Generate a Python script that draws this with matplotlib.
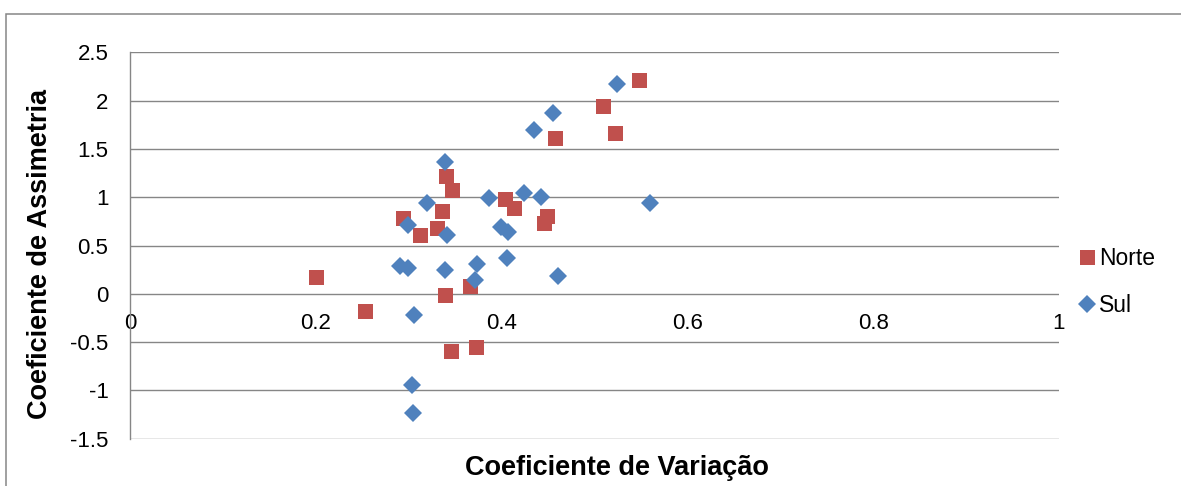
import matplotlib
matplotlib.use("Agg")
import matplotlib.pyplot as plt
from matplotlib.patches import Rectangle

plt.rcParams['font.family'] = ['Liberation Sans', 'DejaVu Sans']

# Coefficient of variation (x) and skewness (y) per region
norte_cv = [0.548, 0.509, 0.522, 0.457, 0.340, 0.347, 0.404, 0.413, 0.336, 0.294,
            0.449, 0.446, 0.331, 0.312, 0.339, 0.366, 0.200, 0.253, 0.346, 0.372]
norte_as = [2.21, 1.95, 1.67, 1.61, 1.22, 1.08, 0.98, 0.89, 0.86, 0.79,
            0.81, 0.73, 0.68, 0.61, -0.01, 0.08, 0.17, -0.18, -0.59, -0.55]

sul_cv = [0.524, 0.455, 0.435, 0.339, 0.320, 0.386, 0.424, 0.442, 0.560, 0.299,
          0.341, 0.399, 0.407, 0.406, 0.291, 0.299, 0.339, 0.373, 0.371, 0.461,
          0.306, 0.304, 0.305]
sul_as = [2.17, 1.87, 1.70, 1.37, 0.94, 0.99, 1.04, 1.00, 0.94, 0.71,
          0.61, 0.69, 0.64, 0.37, 0.29, 0.27, 0.25, 0.31, 0.14, 0.19,
          -0.22, -0.94, -1.23]

x_ticks = [0, 0.2, 0.4, 0.6, 0.8, 1]
x_tick_labels = ['0', '0.2', '0.4', '0.6', '0.8', '1']
y_ticks = [-1.5, -1, -0.5, 0, 0.5, 1, 1.5, 2, 2.5]
y_tick_labels = ['-1.5', '-1', '-0.5', '0', '0.5', '1', '1.5', '2', '2.5']

RED = '#C0504D'
BLUE = '#4F81BD'
GRID = '#868686'

W, H = 1181, 486
fig = plt.figure(figsize=(W / 100, H / 100), dpi=100)
fig.patch.set_facecolor('white')

# outer chart frame (runs off the right and bottom edges)
fig.add_artist(Rectangle((6 / W, -0.5), 1.5, 0.5 + (1 - 14 / H),
                         transform=fig.transFigure, fill=False,
                         edgecolor=GRID, linewidth=1.1))

left, right = 130 / W, 1059 / W
bottom, top = 1 - 438.7 / H, 1 - 52.5 / H
ax = fig.add_axes([left, bottom, right - left, top - bottom])

ax.plot(norte_cv, norte_as, linestyle='none', marker='s', markersize=10.8,
        color=RED, markeredgewidth=0, label='Norte', zorder=3)
ax.plot(sul_cv, sul_as, linestyle='none', marker='D', markersize=9.0,
        color=BLUE, markeredgewidth=0, label='Sul', zorder=4)

ax.set_xlim(0, 1)
ax.set_ylim(-1.5, 2.5)
ax.set_xticks(x_ticks)
ax.set_xticklabels(x_tick_labels)
ax.set_yticks(y_ticks)
ax.set_yticklabels(y_tick_labels)

ax.yaxis.grid(True, color=GRID, linewidth=1.0)
ax.xaxis.grid(False)
ax.set_axisbelow(True)

for side in ('top', 'right'):
    ax.spines[side].set_visible(False)
ax.spines['bottom'].set_position(('data', 0))
ax.spines['bottom'].set_visible(False)
ax.spines['left'].set_color(GRID)
ax.spines['left'].set_linewidth(1.0)

ax.tick_params(axis='x', length=0, pad=13.5, labelsize=16)
ax.tick_params(axis='y', length=0, pad=15.5, labelsize=16)

fig.text(616.6 / W, 1 - 468 / H, 'Coeficiente de Variação', ha='center',
         va='center', fontsize=19.5, fontweight='bold')
fig.text(40 / W, 1 - 254 / H, 'Coeficiente de Assimetria', ha='center',
         va='center', rotation=90, fontsize=19.5, fontweight='bold')

fs_leg = 16.5
em = fs_leg * 100 / 72
fig.legend(loc='center left', bbox_to_anchor=((1087 - 0.3 * em) / W, 1 - 282 / H),
           frameon=False, fontsize=fs_leg, handlelength=0.6, handletextpad=0.22,
           borderpad=0, borderaxespad=0, labelspacing=1.05, markerscale=1.0)

fig.savefig('out.png', dpi=100, facecolor='white')
